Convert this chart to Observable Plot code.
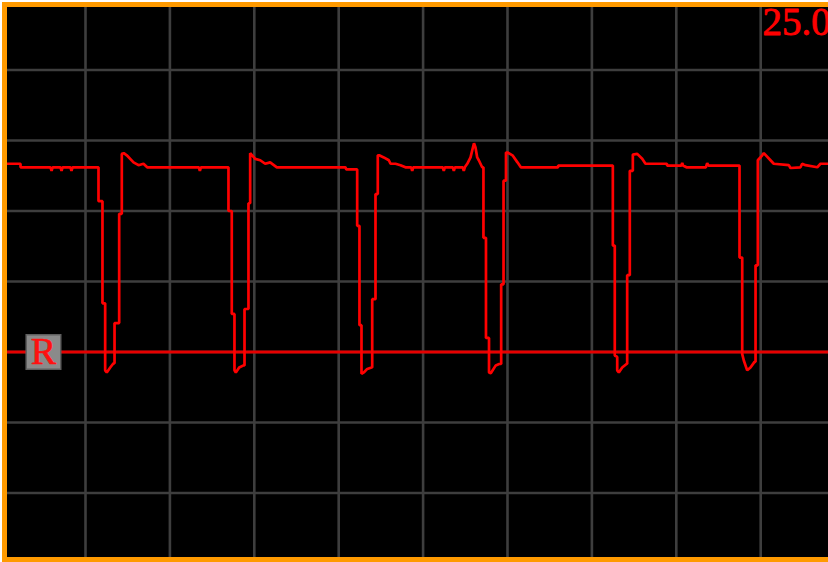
<!DOCTYPE html>
<html><head><meta charset="utf-8">
<script src="https://cdn.jsdelivr.net/npm/d3@7"></script>
<script src="https://cdn.jsdelivr.net/npm/@observablehq/plot@0.6"></script>
<style>
html,body{margin:0;padding:0;background:#fff;}
#wrap{position:relative;width:828px;height:562px;overflow:hidden;background:#fff;}
#wrap svg{position:absolute;left:0;top:0;background:#000;}
#border{position:absolute;left:2px;top:2px;width:850px;height:560px;box-sizing:border-box;border:5px solid #ff9a00;outline:2px solid #fff;pointer-events:none;z-index:2;}
</style></head><body>
<div id="wrap"></div>
<script>
// time in divisions, level in divisions (R reference level = 3)
const time = [
0.00,0.23,0.23,0.585,0.598,0.61,0.704,0.716,0.728,0.822,0.834,0.846,
1.154,1.154,1.201,1.201,1.233,1.233,1.252,1.293,1.332,1.344,1.344,1.399,1.399,1.430,1.430,1.454,1.489,1.569,1.628,1.687,1.731,
2.343,2.355,2.367,
2.694,2.694,2.733,2.733,2.765,2.765,2.781,2.821,2.872,2.884,2.884,2.931,2.931,2.951,2.951,3.011,3.070,3.129,3.188,3.267,
4.080,4.090,4.180,
4.219,4.219,4.246,4.246,4.270,4.270,4.297,4.338,4.389,4.397,4.397,4.436,4.436,4.463,4.463,4.480,4.534,4.594,4.614,4.673,4.732,4.791,
4.859,4.871,4.883,5.233,5.245,5.257,5.352,5.364,5.376,5.470,5.482,5.494,
5.523,5.562,5.582,5.603,5.621,5.641,5.660,5.700,
5.715,5.715,5.745,5.745,5.781,5.781,5.802,5.861,5.901,5.925,5.925,5.953,5.953,5.982,5.982,6.000,6.059,6.118,6.158,
6.60,6.60,
7.248,7.248,7.271,7.271,7.300,7.300,7.319,7.359,7.410,7.418,7.418,7.449,7.449,7.485,7.485,7.537,7.596,7.635,
7.890,7.890,8.060,8.070,8.080,8.120,8.350,8.366,8.380,
8.749,8.749,8.781,8.781,8.800,8.840,8.879,8.927,8.939,8.939,8.966,8.966,9.018,9.037,9.116,9.155,
9.333,9.353,9.471,9.491,9.531,9.670,9.708,9.803
];
const level = [
5.67,5.67,5.62,5.62,5.57,5.62,5.62,5.57,5.62,5.62,5.57,5.62,
5.62,5.14,5.14,3.69,3.69,2.74,2.71,2.78,2.84,2.84,3.41,3.41,4.96,4.96,5.81,5.82,5.79,5.69,5.65,5.67,5.62,
5.62,5.57,5.62,
5.62,5.00,5.00,3.54,3.54,2.74,2.71,2.78,2.81,2.81,3.61,3.61,5.11,5.11,5.82,5.74,5.72,5.67,5.69,5.62,
5.62,5.59,5.59,
5.59,4.79,4.79,3.38,3.38,2.69,2.71,2.76,2.78,2.78,3.75,3.75,5.24,5.24,5.79,5.79,5.76,5.72,5.67,5.67,5.65,5.62,
5.62,5.57,5.62,5.62,5.57,5.62,5.62,5.57,5.62,5.62,5.57,5.62,
5.67,5.76,5.86,5.96,5.90,5.76,5.72,5.62,
5.62,4.62,4.62,3.20,3.20,2.71,2.70,2.81,2.83,2.83,3.96,3.96,5.43,5.43,5.83,5.83,5.79,5.69,5.62,
5.62,5.645,
5.645,4.51,4.51,2.95,2.93,2.74,2.71,2.78,2.83,2.83,4.09,4.09,5.57,5.57,5.80,5.81,5.74,5.67,
5.67,5.645,5.645,5.68,5.645,5.62,5.62,5.68,5.645,
5.645,4.34,4.34,2.97,2.88,2.74,2.78,2.86,2.86,4.23,4.23,5.72,5.79,5.82,5.72,5.67,
5.65,5.61,5.62,5.67,5.65,5.62,5.67,5.67
];
const gridTimes = [1,2,3,4,5,6,7,8,9];
const gridLevels = [1,2,3,4,5,6,7];
const refLevel = 3;
const refLabel = "R";
const refLabelTime = 0.502;
const scaleLabel = "25.0";
const scaleLabelPos = {t: 9.02, v: 7.5};

const trace = time.map((t, i) => ({t, v: level[i]}));

const chart = Plot.plot({
  width: 828,
  height: 562,
  margin: 0,
  x: {domain: [0, 10], range: [0.6, 844.6], axis: null},
  y: {domain: [0, 8], range: [563, -1], axis: null},
  style: {background: "#000"},
  marks: [
    Plot.ruleX(gridTimes, {stroke: "#3e3e3e", strokeWidth: 2.6}),
    Plot.ruleY(gridLevels, {stroke: "#3e3e3e", strokeWidth: 2.6}),
    Plot.ruleY([refLevel], {stroke: "#e60000", strokeWidth: 3}),
    Plot.line(trace, {x: "t", y: "v", stroke: "#ff0000", strokeWidth: 2.7, strokeLinejoin: "miter", clip: true}),
    Plot.dot([{t: refLabelTime, v: refLevel}], {x: "t", y: "v", symbol: "square", r: 19.5, fill: "#8a8a8a", stroke: "#5e5e5e", strokeWidth: 1.5}),
    Plot.text([{t: refLabelTime, v: refLevel, s: refLabel}], {x: "t", y: "v", text: "s", fill: "#ff1010", stroke: "#ff1010", strokeWidth: 0.6, fontSize: 38, fontFamily: "Liberation Serif", lineAnchor: "middle", textAnchor: "middle"}),
    Plot.text([{...scaleLabelPos, s: scaleLabel}], {x: "t", y: "v", text: "s", fill: "#ff0000", stroke: "#ff0000", strokeWidth: 0.8, fontSize: 39, fontFamily: "Liberation Serif", lineAnchor: "bottom", textAnchor: "start"})
  ]
});
const wrap = document.getElementById("wrap");
wrap.appendChild(chart);
const b = document.createElement("div");
b.id = "border";
wrap.appendChild(b);
</script>
</body></html>
